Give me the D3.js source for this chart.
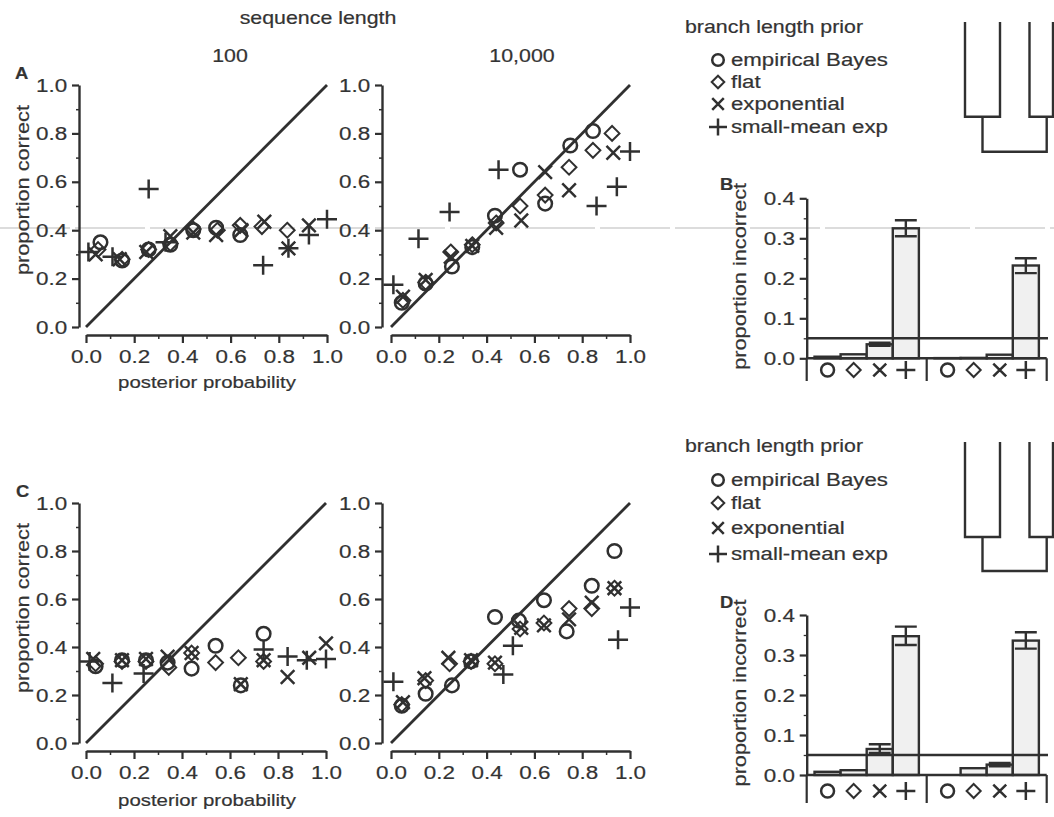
<!DOCTYPE html>
<html><head><meta charset="utf-8">
<script src="https://cdn.jsdelivr.net/npm/d3@7"></script>
<style>
body{margin:0;background:#fff}
svg{display:block}
text{font-family:"Liberation Sans",Arial,Helvetica,sans-serif;fill:#333;stroke:#333;stroke-width:0.2px}
</style>
</head><body>
<svg id="c" width="1054" height="817"></svg>
<script>
// ---------------- data ----------------
const priorKeys = ["eb", "flat", "exp", "sme"];
const priorNames = ["empirical Bayes", "flat", "exponential", "small-mean exp"];
const seqLengths = ["100", "10,000"];
const xTickVals = [0, 0.2, 0.4, 0.6, 0.8, 1.0];
const yTickVals = [0, 0.2, 0.4, 0.6, 0.8, 1.0];
const barTickVals = [0, 0.1, 0.2, 0.3, 0.4];
const refLine = 0.05;

// Panel A, sequence length 100: [posterior probability, proportion correct]
const A100_eb   = [[0.06,0.35],[0.15,0.275],[0.26,0.32],[0.35,0.34],[0.445,0.40],[0.54,0.41],[0.64,0.38]];
const A100_flat = [[0.05,0.32],[0.15,0.28],[0.26,0.32],[0.35,0.345],[0.445,0.405],[0.545,0.40],[0.64,0.42],[0.73,0.415],[0.835,0.40]];
const A100_exp  = [[0.04,0.30],[0.14,0.28],[0.25,0.31],[0.35,0.375],[0.445,0.39],[0.54,0.38],[0.645,0.40],[0.74,0.435],[0.84,0.325],[0.925,0.42]];
const A100_sme  = [[0.01,0.31],[0.11,0.29],[0.26,0.57],[0.33,0.35],[0.735,0.255],[0.84,0.325],[0.925,0.38],[1.0,0.445]];
// Panel A, sequence length 10,000
const A10k_eb   = [[0.045,0.10],[0.145,0.18],[0.255,0.25],[0.34,0.33],[0.435,0.46],[0.54,0.65],[0.645,0.51],[0.75,0.75],[0.845,0.81]];
const A10k_flat = [[0.05,0.11],[0.145,0.185],[0.25,0.31],[0.34,0.34],[0.44,0.43],[0.54,0.50],[0.645,0.545],[0.745,0.66],[0.845,0.73],[0.925,0.80]];
const A10k_exp  = [[0.05,0.125],[0.145,0.195],[0.25,0.29],[0.34,0.335],[0.44,0.41],[0.545,0.44],[0.645,0.64],[0.745,0.565],[0.93,0.72]];
const A10k_sme  = [[0.01,0.175],[0.115,0.365],[0.245,0.475],[0.45,0.65],[0.86,0.50],[0.945,0.58],[1.0,0.725]];
// Panel C, sequence length 100
const C100_eb   = [[0.04,0.32],[0.15,0.345],[0.25,0.345],[0.34,0.335],[0.44,0.31],[0.54,0.405],[0.645,0.24],[0.74,0.455]];
const C100_flat = [[0.04,0.33],[0.15,0.34],[0.25,0.34],[0.345,0.315],[0.44,0.375],[0.54,0.335],[0.635,0.355],[0.74,0.34]];
const C100_exp  = [[0.03,0.35],[0.15,0.345],[0.25,0.35],[0.34,0.36],[0.44,0.375],[0.645,0.245],[0.74,0.345],[0.84,0.275],[0.93,0.355],[1.0,0.415]];
const C100_sme  = [[0.015,0.34],[0.11,0.25],[0.24,0.29],[0.74,0.39],[0.84,0.36],[0.92,0.345],[1.0,0.35]];
// Panel C, sequence length 10,000
const C10k_eb   = [[0.045,0.155],[0.145,0.205],[0.255,0.24],[0.335,0.34],[0.435,0.525],[0.535,0.51],[0.64,0.595],[0.735,0.465],[0.84,0.655],[0.935,0.80]];
const C10k_flat = [[0.045,0.16],[0.145,0.26],[0.245,0.33],[0.335,0.34],[0.435,0.33],[0.54,0.475],[0.64,0.50],[0.745,0.56],[0.84,0.56],[0.935,0.645]];
const C10k_exp  = [[0.05,0.17],[0.14,0.27],[0.24,0.355],[0.335,0.345],[0.435,0.335],[0.545,0.48],[0.64,0.49],[0.745,0.515],[0.84,0.585],[0.935,0.645]];
const C10k_sme  = [[0.01,0.255],[0.47,0.285],[0.51,0.405],[0.95,0.43],[1.0,0.565]];

// Panel B / D: proportion incorrect per prior, [100, 10,000]
const B_values = {eb:[0.004,0.0005], flat:[0.01,0.001], exp:[0.035,0.009], sme:[0.325,0.232]};
const B_errors = {exp:[[0.031,0.039],null], sme:[[0.305,0.345],[0.213,0.25]]};
const D_values = {eb:[0.008,0.0], flat:[0.012,0.017], exp:[0.065,0.026], sme:[0.347,0.336]};
const D_errors = {exp:[[0.055,0.077],[0.022,0.030]], sme:[[0.325,0.371],[0.316,0.357]]};

// ---------------- drawing ----------------
const INK = "#303030";
const svg = d3.select("#c");
svg.append("rect").attr("width",1054).attr("height",817).attr("fill","#fff");
// faint scan line seen across reference
svg.append("line").attr("x1",0).attr("x2",1054).attr("y1",228).attr("y2",228)
  .attr("stroke","#dcdcdc").attr("stroke-width",2).attr("stroke-dasharray","70,5");

function label(g, txt, x, y, o = {}) {
  const sx = o.sx || 1.24, rot = o.rot || 0;
  return g.append("text").text(txt)
    .attr("transform", `translate(${x},${y}) rotate(${rot}) scale(${sx},1)`)
    .attr("text-anchor", o.anchor || "start")
    .style("font-size", (o.size || 17.5) + "px")
    .style("font-weight", o.weight || "normal");
}

function marker(g, type, cx, cy, s = 1) {
  const m = g.append("g").attr("transform", `translate(${cx},${cy})`)
    .attr("fill","none").attr("stroke",INK).attr("stroke-width",2.5);
  if (type === "eb") m.append("circle").attr("r", 6.8*s);
  else if (type === "flat") { const h = 7.4*s;
    m.append("path").attr("d",`M0,${-h}L${h},0L0,${h}L${-h},0Z`).attr("stroke-width",2); }
  else if (type === "exp") { const h = 6.8*s;
    m.append("path").attr("d",`M${-h},${-h}L${h},${h}M${-h},${h}L${h},${-h}`); }
  else { const h = 10*s;
    m.append("path").attr("d",`M${-h},0L${h},0M0,${-h*0.95}L0,${h*0.95}`); }
  return m;
}

function styleAxis(ax, fontSize) {
  ax.selectAll(".domain").attr("stroke",INK).attr("stroke-width",2.4);
  ax.selectAll(".tick line").attr("stroke",INK).attr("stroke-width",2.2);
  ax.selectAll(".tick text").style("font-size", fontSize+"px")
    .style("font-family",'"Liberation Sans",Arial,sans-serif').attr("fill","#333")
    .attr("stroke","#333").attr("stroke-width",0.25)
    .attr("transform","scale(1.18,1)");
}

function scatter(cfg, series) {
  const g = svg.append("g");
  const x = d3.scaleLinear().domain([0,1]).range(cfg.xr);
  const y = d3.scaleLinear().domain([0,1]).range(cfg.yr);
  const ya = g.append("g").attr("transform",`translate(${cfg.yAxisX},0)`)
    .call(d3.axisLeft(y).tickValues(yTickVals).tickSize(7).tickPadding(3).tickSizeOuter(0).tickFormat(d3.format(".1f")));
  styleAxis(ya, 19);
  const yam = g.append("g").attr("transform",`translate(${cfg.yAxisX},0)`)
    .call(d3.axisLeft(y).tickValues([0.1,0.3,0.5,0.7,0.9]).tickSize(3).tickFormat(""));
  yam.select(".domain").remove();
  yam.selectAll(".tick line").attr("stroke",INK).attr("stroke-width",1.5);
  const xa = g.append("g").attr("transform",`translate(0,${cfg.xAxisY})`)
    .call(d3.axisBottom(x).tickValues(xTickVals).tickSize(8).tickPadding(7).tickSizeOuter(0).tickFormat(d3.format(".1f")));
  styleAxis(xa, 19);
  const xam = g.append("g").attr("transform",`translate(0,${cfg.xAxisY})`)
    .call(d3.axisBottom(x).tickValues([0.1,0.3,0.5,0.7,0.9]).tickSize(4).tickFormat(""));
  xam.select(".domain").remove();
  xam.selectAll(".tick line").attr("stroke",INK).attr("stroke-width",1.5);
  g.append("line").attr("x1",x(0)).attr("y1",y(0)).attr("x2",x(1)).attr("y2",y(1))
    .attr("stroke",INK).attr("stroke-width",2.8);
  priorKeys.forEach((k,i) => {
    series[i].forEach(d => marker(g, k, x(d[0]), y(d[1])));
  });
  return {g,x,y};
}

function bars(cfg, values, errors) {
  const g = svg.append("g");
  const y = d3.scaleLinear().domain([0,0.4]).range([cfg.y0, cfg.y4]);
  const xg = d3.scaleBand().domain(seqLengths).range([806.7,1046.7]);
  const xi = d3.scaleBand().domain(priorKeys).range([0,xg.bandwidth()]).paddingOuter(0.3);
  const ya = g.append("g").attr("transform","translate(806.7,0)")
    .call(d3.axisLeft(y).tickValues(barTickVals).tickSize(7).tickPadding(3).tickSizeOuter(0).tickFormat(d3.format(".1f")));
  styleAxis(ya, 19);
  const yam = g.append("g").attr("transform","translate(806.7,0)")
    .call(d3.axisLeft(y).tickValues([0.05,0.15,0.25,0.35]).tickSize(3).tickFormat(""));
  yam.select(".domain").remove();
  yam.selectAll(".tick line").attr("stroke",INK).attr("stroke-width",1.3);
  seqLengths.forEach((s,gi) => {
    priorKeys.forEach(k => {
      const v = values[k][gi];
      const bx = xg(s) + xi(k), bw = xi.bandwidth();
      g.append("rect").attr("x",bx).attr("y",y(v)).attr("width",bw).attr("height",Math.max(0,y(0)-y(v)))
        .attr("fill","#f0f0f0").attr("stroke",INK).attr("stroke-width",2.4);
      const e = errors[k] && errors[k][gi];
      if (e) {
        const cx = bx + bw/2, cw = bw*0.42;
        g.append("path").attr("d",`M${cx},${y(e[0])}L${cx},${y(e[1])}M${cx-cw},${y(e[1])}L${cx+cw},${y(e[1])}M${cx-cw},${y(e[0])}L${cx+cw},${y(e[0])}`)
          .attr("stroke",INK).attr("stroke-width",2.4).attr("fill","none");
      }
      marker(g, k, bx + bw/2, cfg.symY, 0.95);
    });
  });
  g.append("line").attr("x1",806.7).attr("x2",1046.7).attr("y1",y(0)).attr("y2",y(0)).attr("stroke",INK).attr("stroke-width",2.4);
  [806.7, xg("10,000"), 1046.7].forEach(sx => g.append("line").attr("x1",sx).attr("x2",sx)
    .attr("y1",y(0)).attr("y2",cfg.sepY).attr("stroke",INK).attr("stroke-width",2.2));
  g.append("line").attr("x1",806.7).attr("x2",1048).attr("y1",y(refLine)).attr("y2",y(refLine))
    .attr("stroke",INK).attr("stroke-width",2.4);
  label(g, "proportion incorrect", cfg.labX, (cfg.y0+cfg.y4)/2 - 2, {rot:-90, anchor:"middle", size:17.5, sx:1.24});
  label(g, cfg.letter, 720, cfg.letterY, {size:16, weight:"bold", sx:1.15});
}

function legend(ty, itemYs) {
  const g = svg.append("g");
  label(g, "branch length prior", 685, ty, {size:17.5, sx:1.22});
  priorKeys.forEach((k,i) => {
    marker(g, k, 718, itemYs[i], k === "sme" ? 0.9 : 0.85);
    label(g, priorNames[i], 731, itemYs[i] + 6, {size:17.5, sx:1.27});
  });
}

function tree(top, mid, bot) {
  const p = `M965,${top}L965,${mid}L1000,${mid}L1000,${top}` +
            `M1029.5,${top}L1029.5,${mid}L1053,${mid}L1053,${top}` +
            `M982.5,${mid}L982.5,${bot}L1046.7,${bot}L1046.7,${mid}`;
  svg.append("path").attr("d",p).attr("fill","none").attr("stroke",INK).attr("stroke-width",2.4);
}

// headers
label(svg, "sequence length", 318, 24, {anchor:"middle", size:17.5, sx:1.22});
label(svg, "100", 230, 62, {anchor:"middle", size:17.5, sx:1.22});
label(svg, "10,000", 522, 62, {anchor:"middle", size:17.5, sx:1.22});

// panels A
scatter({xr:[86,327], yr:[327,85], yAxisX:79, xAxisY:335}, [A100_eb,A100_flat,A100_exp,A100_sme]);
scatter({xr:[391,630], yr:[327,85], yAxisX:382, xAxisY:335}, [A10k_eb,A10k_flat,A10k_exp,A10k_sme]);
label(svg, "A", 15, 79, {size:16, weight:"bold", sx:1.15});
label(svg, "proportion correct", 29, 190, {rot:-90, anchor:"middle", size:17.5, sx:1.24});
label(svg, "posterior probability", 207, 388, {anchor:"middle", size:17, sx:1.2});

// panels C
scatter({xr:[86,326], yr:[743,503], yAxisX:79, xAxisY:751}, [C100_eb,C100_flat,C100_exp,C100_sme]);
scatter({xr:[391,630], yr:[743,503], yAxisX:382, xAxisY:751}, [C10k_eb,C10k_flat,C10k_exp,C10k_sme]);
label(svg, "C", 16, 497, {size:16, weight:"bold", sx:1.15});
label(svg, "proportion correct", 29, 608, {rot:-90, anchor:"middle", size:17.5, sx:1.24});
label(svg, "posterior probability", 207, 806, {anchor:"middle", size:17, sx:1.2});

// legends and trees
legend(33, [60, 82, 104, 127]);
tree(22, 116.7, 151.7);
legend(452, [480, 503, 528, 554]);
tree(442, 537, 571);

// bar panels
bars({y0:358.3, y4:198.3, symY:370, sepY:381, labX:746, letter:"B", letterY:190}, B_values, B_errors);
bars({y0:775, y4:615, symY:791, sepY:803, labX:746, letter:"D", letterY:608}, D_values, D_errors);
</script>
</body></html>
